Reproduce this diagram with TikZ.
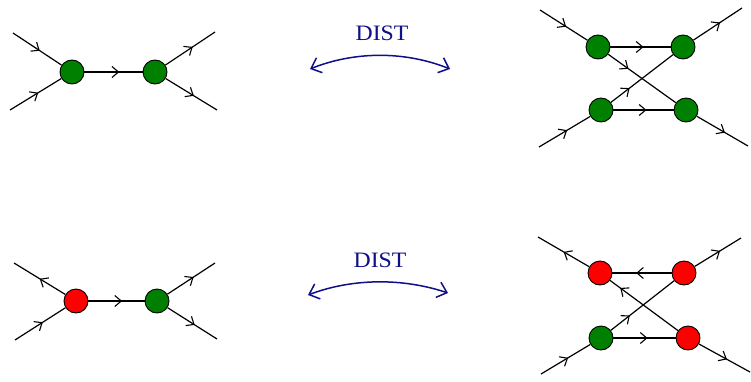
\documentclass[tikz,border=0pt]{standalone}
\usepackage{fontspec}
\setmainfont{Liberation Serif}
\usetikzlibrary{arrows.meta,decorations.markings}
\definecolor{vgreen}{RGB}{0,128,0}
\definecolor{vred}{RGB}{255,0,0}
\definecolor{distblue}{RGB}{15,15,135}
\tikzset{
  vtx/.style={circle,draw=black,line width=0.9pt,minimum size=24pt,inner sep=0pt},
  gv/.style={vtx,fill=vgreen},
  rv/.style={vtx,fill=vred},
  prop/.style={line width=1.2pt,postaction={decorate},
    decoration={markings,mark=at position #1 with {\arrow{Straight Barb[length=6.5pt,width=11pt,line width=1.1pt]}}}},
  prop/.default=0.55,
  distarrow/.style={draw=distblue,line width=1.5pt,{Straight Barb[length=9pt,width=16pt]}-{Straight Barb[length=9pt,width=16pt]}},
  disttext/.style={text=distblue,font=\fontsize{22}{26}\selectfont,xscale=1.08}
}
\begin{document}
\begin{tikzpicture}[x=1pt,y=-1pt]
\path[use as bounding box] (0,0) rectangle (751,382);

% ---------- top left ----------
\node[gv] (a1) at (72,72) {};
\node[gv] (b1) at (155,72) {};
\coordinate (a1i1) at (13,33);
\coordinate (a1i2) at (10,110);
\coordinate (b1o1) at (215,32);
\coordinate (b1o2) at (217,110);
\draw[prop] (a1i1) -- (a1);
\draw[prop] (a1i2) -- (a1);
\draw[prop=0.6] (a1) -- (b1);
\draw[prop] (b1) -- (b1o1);
\draw[prop] (b1) -- (b1o2);

% ---------- top DIST ----------
\node[disttext] (d1) at (382,33) {DIST};
\coordinate (d1l) at (310,69);
\coordinate (d1r) at (450,69);
\draw[distarrow] (d1l) .. controls (355,51) and (405,51) .. (d1r);

% ---------- top right ----------
\node[gv] (c1) at (598,47) {};
\node[gv] (c2) at (683,47) {};
\node[gv] (c3) at (601,110) {};
\node[gv] (c4) at (686,110) {};
\coordinate (c1i) at (540,10);
\coordinate (c3i) at (539,147);
\coordinate (c2o) at (742,8);
\coordinate (c4o) at (748,146);
\draw[prop] (c1i) -- (c1);
\draw[prop] (c3i) -- (c3);
\draw[prop] (c2) -- (c2o);
\draw[prop] (c4) -- (c4o);
\draw[prop=0.55] (c1) -- (c2);
\draw[prop=0.55] (c3) -- (c4);
\draw[prop=0.3] (c1) -- (c4);
\draw[prop=0.3] (c3) -- (c2);

% ---------- bottom left ----------
\node[rv] (a2) at (76,301) {};
\node[gv] (b2) at (157,301) {};
\coordinate (a2o1) at (14,263);
\coordinate (a2i2) at (15,340);
\coordinate (b2o1) at (215,263);
\coordinate (b2o2) at (217,339);
\draw[prop=0.5] (a2) -- (a2o1);
\draw[prop] (a2i2) -- (a2);
\draw[prop=0.6] (a2) -- (b2);
\draw[prop] (b2) -- (b2o1);
\draw[prop] (b2) -- (b2o2);

% ---------- bottom DIST ----------
\node[disttext] (d2) at (380,260) {DIST};
\coordinate (d2l) at (308,295);
\coordinate (d2r) at (448,293);
\draw[distarrow] (d2l) .. controls (353,278) and (403,278) .. (d2r);

% ---------- bottom right ----------
\node[rv] (e1) at (600,273) {};
\node[rv] (e2) at (684,273) {};
\node[gv] (e3) at (601,338) {};
\node[rv] (e4) at (688,338) {};
\coordinate (e1o) at (538,237);
\coordinate (e2o) at (741,238);
\coordinate (e3i) at (541,374);
\coordinate (e4o) at (750,372);
\draw[prop=0.5] (e1) -- (e1o);
\draw[prop] (e2) -- (e2o);
\draw[prop] (e3i) -- (e3);
\draw[prop] (e4) -- (e4o);
\draw[prop=0.6] (e2) -- (e1);
\draw[prop=0.55] (e3) -- (e4);
\draw[prop=0.85] (e4) -- (e1);
\draw[prop=0.3] (e3) -- (e2);
\end{tikzpicture}
\end{document}
